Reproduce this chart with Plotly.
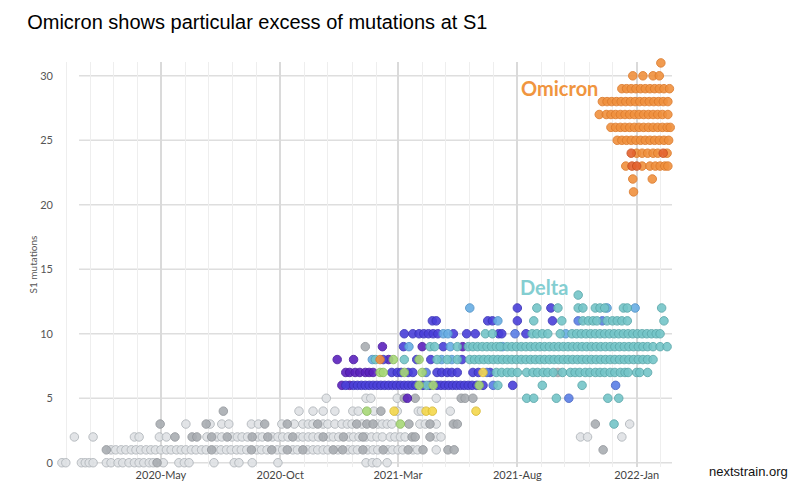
import pandas as pd
import plotly.graph_objects as go

# ---------------- data: days since 2020-01-01, grouped by S1-mutation count ----------------
BASE_DATE = "2020-01-01"

GRAY_LIGHT = [
    (0, [-6, -1, 19, 24, 29, 34, 51, 57, 66, 72, 80, 87, 93, 99, 106, 111, 124, 144, 151, 157,
         189, 215, 221, 238, 271, 384, 392, 398, 411]),
    (1, [57, 63, 70, 76, 83, 89, 95, 102, 108, 114, 121, 128, 134, 141, 147, 153, 160, 166, 173, 179,
         192, 198, 205, 211, 218, 224, 231, 244, 250, 257, 270, 277, 290, 296, 309, 316, 322, 329,
         335, 348, 361, 367, 373, 386, 393, 399, 412, 418, 425, 431, 444, 450, 474]),
    (2, [10, 34, 87, 93, 119, 128, 180, 193, 199, 212, 219, 225, 232, 245, 251, 264, 271, 277, 284,
         297, 303, 310, 316, 323, 336, 342, 349, 362, 368, 375, 384, 391, 398, 405, 415, 421, 428,
         434, 474, 480, 659, 668, 712]),
    (3, [153, 184, 199, 208, 237, 246, 276, 292, 303, 310, 316, 329, 335, 344, 353, 360, 366, 379,
         399, 405, 411, 417, 453, 460, 474, 722]),
    (4, [298, 316, 329, 344, 367, 374, 394, 424, 451, 455, 492]),
    (5, [333, 384, 390, 424, 474]),
]
GRAY_DARK = [
    (0, [116]),
    (1, [51, 186, 237, 263, 283, 303, 342, 354, 380, 406, 438, 457, 489, 497, 688]),
    (2, [139, 161, 167, 186, 206, 238, 258, 290, 329, 355, 380, 443, 447, 466]),
    (3, [120, 179, 254, 283, 322, 372, 385, 393, 439, 466, 496, 501, 678]),
    (4, [201, 403]),
    (5, [433, 447, 506, 511, 521]),
    (7, [630]),
    (9, [383]),
]
PURPLE = [
    (5, [437]),
    (6, [353, 363]),
    (7, [358, 363, 370, 376, 383, 388, 393]),
    (8, [347, 368, 413]),
    (9, [405, 456, 508]),
]
INDIGO = [
    (6, [358, 368, 373, 378, 383, 388, 393, 398, 403, 408, 413, 418, 423, 428, 433, 438, 443, 448,
         457, 466, 475, 480, 485, 490, 495, 500, 505, 510, 515, 520, 526, 534, 572]),
    (7, [417, 424, 429, 438, 444, 475, 481, 488, 494, 501, 521, 528, 543]),
    (8, [406, 449, 467, 507]),
    (9, [432, 483]),
    (10, [433, 444, 452, 458, 464, 470, 476, 496, 513, 524, 554, 558, 589]),
    (11, [469, 474, 540, 546, 578, 623]),
    (12, [578, 621]),
]
BLUE = [
    (5, [644]),
    (6, [547, 704]),
    (7, [461, 539]),
    (10, [575]),
    (11, [656, 687]),
]
SKY = [
    (8, [392, 481, 494]),
    (9, [439, 492, 559]),
    (10, [483, 489, 640]),
    (11, [553]),
    (12, [517, 693, 729]),
]
TEAL = [
    (3, [702]),
    (5, [590, 599, 628, 694, 708]),
    (6, [462, 553, 610, 661]),
    (7, [551, 558, 565, 571, 578, 590, 598, 604, 611, 617, 624, 636, 646, 652, 658, 665, 671, 678,
         684, 690, 697, 703, 710, 716, 720, 731, 735, 745]),
    (8, [396, 433, 475, 488, 501, 517, 523, 529, 535, 541, 547, 553, 559, 565, 571, 577, 583, 589,
         595, 601, 607, 613, 619, 625, 631, 637, 643, 649, 655, 661, 667, 673, 679, 685, 691, 697,
         703, 709, 715, 721, 727, 733, 739, 745, 752]),
    (9, [466, 472, 501, 515, 521, 527, 533, 539, 545, 551, 556, 565, 571, 577, 583, 589, 595, 601,
         607, 613, 619, 625, 631, 637, 643, 649, 655, 661, 667, 673, 679, 685, 691, 697, 703, 709,
         715, 721, 727, 733, 739, 745, 752, 761, 770]),
    (10, [537, 546, 597, 603, 610, 617, 633, 648, 654, 660, 666, 672, 678, 684, 690, 696, 702, 708,
          714, 720, 726, 732, 738, 744, 750, 756, 761]),
    (11, [599, 635, 662, 669, 675, 680, 693, 700, 706, 712, 719, 766]),
    (12, [603, 630, 656, 662, 678, 684, 690, 714, 719, 763]),
    (13, [656]),
]
GREEN = [
    (3, [428]),
    (4, [385]),
    (6, [452, 470, 529]),
    (7, [402, 406, 433, 456]),
    (8, [419, 452]),
]
YELLOW = [
    (4, [420, 461, 469, 525]),
    (7, [534]),
]
ORANGE = [
    (8, [402]),
    (21, [727]),
    (22, [726, 751]),
    (23, [717, 738, 748, 755, 761, 767, 771]),
    (24, [731, 738, 745, 752, 758, 770]),
    (25, [706, 712, 718, 724, 730, 736, 742, 748, 754, 760, 766, 772, 778]),
    (26, [698, 704, 710, 716, 722, 728, 734, 740, 746, 752, 758, 764, 770, 774]),
    (27, [683, 692, 698, 704, 710, 716, 722, 728, 734, 740, 746, 752, 758, 764, 771]),
    (28, [687, 693, 699, 705, 711, 717, 723, 729, 735, 741, 747, 753, 759, 765, 771, 777, 780]),
    (29, [712, 718, 724, 730, 736, 742, 748, 754, 760, 766, 773]),
    (30, [726, 739, 752, 760]),
    (31, [762]),
]
DARK_ORANGE = [
    (23, [725, 731]),
    (24, [724, 765]),
]

Y_TICKS = [0, 5, 10, 15, 20, 25, 30]

# ---------------- styles ----------------
SERIES = [
    (GRAY_LIGHT, "#dfe2e5", "#b2b7bc"),
    (GRAY_DARK, "#a9adb2", "#94989d"),
    (PURPLE, "#5b22bd", "#4a1aa0"),
    (INDIGO, "#4a40d9", "#3a32b8"),
    (BLUE, "#5a7fe6", "#4866c4"),
    (SKY, "#68aee4", "#5092c8"),
    (TEAL, "#74c5c8", "#5aa8ab"),
    (GREEN, "#a7d877", "#8cbd5e"),
    (YELLOW, "#f5d84c", "#d9bb35"),
    (ORANGE, "#f0913e", "#dd7a2a"),
    (DARK_ORANGE, "#e4622e", "#c8501f"),
]

base = pd.Timestamp(BASE_DATE)


def expand(rows):
    xs, ys = [], []
    for level, days in rows:
        for d in days:
            xs.append(base + pd.Timedelta(days=d))
            ys.append(level)
    return xs, ys


fig = go.Figure()
for rows, fill, edge in SERIES:
    xs, ys = expand(rows)
    fig.add_trace(go.Scatter(
        x=xs, y=ys, mode="markers", cliponaxis=False, showlegend=False,
        marker=dict(size=8.5, color=fill, opacity=0.9, line=dict(color=edge, width=1)),
        hoverinfo="skip",
    ))

X_START = "2019-12-21"
X_END = "2022-02-15 07:00"

shapes = []
for t in Y_TICKS:
    shapes.append(dict(type="line", xref="x", yref="y", x0="2020-01-17", x1=X_END, y0=t, y1=t,
                       line=dict(color="#dedede", width=1.5), layer="below"))

fig.update_layout(
    width=800, height=495,
    margin=dict(l=58, r=128, t=62, b=28),
    paper_bgcolor="white", plot_bgcolor="white",
    title=dict(text="Omicron shows particular excess of mutations at S1",
               x=0.034, xanchor="left", y=0.955, yanchor="middle",
               font=dict(family="Liberation Sans, Arial", size=20, color="#000000")),
    shapes=shapes,
    xaxis=dict(
        type="date", range=[X_START, X_END],
        tick0="2020-05-01", dtick="M5", tickformat="%Y-%b",
        showgrid=True, gridcolor="#dadada", gridwidth=2,
        minor=dict(dtick="M1", tick0="2020-01-01", showgrid=True, gridcolor="#eeeeee", gridwidth=1),
        zeroline=False, showline=False, ticks="",
        tickfont=dict(family="Lato", size=11, color="#444444"),
    ),
    yaxis=dict(
        range=[-0.33, 31.07], tickvals=Y_TICKS, showgrid=False, zeroline=False, showline=False,
        ticks="", ticklabelstandoff=4,
        tickfont=dict(family="Lato", size=11, color="#555555"),
        title=dict(text="S1 mutations", standoff=0, font=dict(family="Lato", size=10, color="#555555")),
    ),
    annotations=[
        dict(text="<b>Omicron</b>", xref="paper", yref="paper", x=0.816, y=0.936,
             xanchor="center", yanchor="middle", showarrow=False,
             font=dict(family="Lato", size=20, color="#f0953f")),
        dict(text="<b>Delta</b>", xref="paper", yref="paper", x=0.7915, y=0.4444,
             xanchor="center", yanchor="middle", showarrow=False,
             font=dict(family="Lato", size=20, color="#84ced1")),
        dict(text="nextstrain.org", xref="paper", yref="paper", x=1.1254, y=-0.0123,
             xanchor="center", yanchor="middle", showarrow=False,
             font=dict(family="Liberation Sans, Arial", size=13, color="#111111")),
    ],
)

fig.write_html("out.html")
